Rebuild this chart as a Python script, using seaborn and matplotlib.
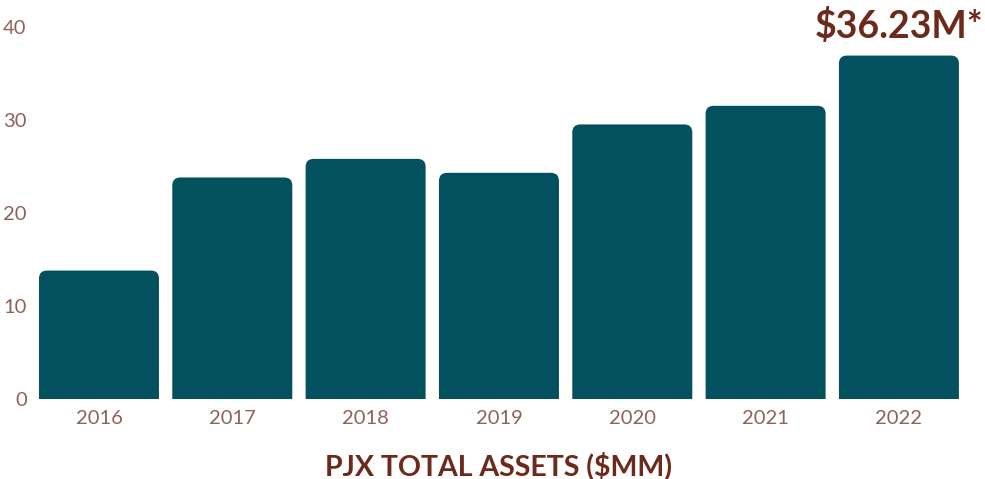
import matplotlib
matplotlib.use("Agg")
import matplotlib.pyplot as plt
import seaborn as sns
import pandas as pd
from matplotlib.patches import FancyBboxPatch

years = ["2016", "2017", "2018", "2019", "2020", "2021", "2022"]
assets = [13.8, 23.8, 25.8, 24.3, 29.5, 31.5, 36.9]
y_ticks = [0, 10, 20, 30, 40]
highlight_label = "$36.23M*"
x_title = "PJX TOTAL ASSETS ($MM)"

sns.set_theme(style="white")
plt.rcParams['font.family'] = ['Lato', 'DejaVu Sans']

bar_color = "#03505F"
tick_color = "#8E6258"
title_color = "#6B2A1A"

df = pd.DataFrame({"year": years, "assets": assets})

fig = plt.figure(figsize=(9.85, 4.79), dpi=100)
ax = fig.add_axes([32.3/985, 1-399/479, (965.6-32.3)/985, (399-26.7)/479])
sns.barplot(data=df, x="year", y="assets", color=bar_color, saturation=1,
            width=0.9, ax=ax)
ax.set_ylim(0, 40)
ax.set_xlim(-0.5, len(years)-0.5)

# replace bars with top-rounded versions
px_per_x = (965.6-32.3)/len(years)
px_per_y = (399-26.7)/40
r_px = 8
r_x = r_px/px_per_x
aspect = px_per_x/px_per_y
for p in list(ax.patches):
    x0, w, h = p.get_x(), p.get_width(), p.get_height()
    p.remove()
    fb = FancyBboxPatch((x0, -2), w, h+2,
                        boxstyle=f"round,pad=0,rounding_size={r_x}",
                        mutation_aspect=aspect, facecolor=bar_color,
                        edgecolor="none", clip_on=True)
    ax.add_patch(fb)

ax.set_yticks(y_ticks)
ax.tick_params(axis="both", length=0, labelsize=14.5, labelcolor=tick_color)
ax.tick_params(axis="y", pad=4)
ax.tick_params(axis="x", pad=8)
for lbl in ax.get_xticklabels() + ax.get_yticklabels():
    lbl.set_fontweight("normal")
for s in ax.spines.values():
    s.set_visible(False)
ax.set_ylabel("")
ax.set_xlabel(x_title, fontsize=20.5, fontweight="bold", color=title_color, labelpad=18)

last = len(years)-1
ax.text(last, assets[-1] + 1.2, highlight_label, ha="center", va="bottom",
        fontsize=27, fontweight="bold", color=title_color, clip_on=False)

fig.savefig("out.png", dpi=100)
